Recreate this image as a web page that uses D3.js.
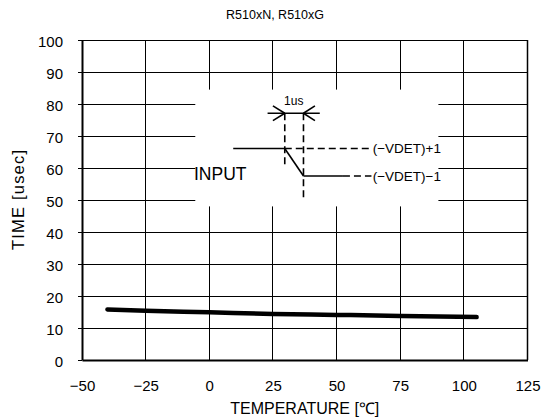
<!DOCTYPE html>
<html>
<head>
<meta charset="utf-8">
<script src="https://cdn.jsdelivr.net/npm/d3@7"></script>
<style>
  html, body { margin: 0; padding: 0; background: #fff; }
  svg { display: block; }
  text { font-family: "Liberation Sans", Arial, sans-serif; fill: #000; }
</style>
</head>
<body>
<svg id="chart" width="546" height="417"></svg>
<script>
// Detector output delay vs. ambient temperature
const temperature = [-40, -25, 0, 25, 50, 75, 105];
const delayTime = [15.8, 15.4, 14.9, 14.4, 14.1, 13.75, 13.4];

const xTicks = [-50, -25, 0, 25, 50, 75, 100, 125];
const yTicks = [0, 10, 20, 30, 40, 50, 60, 70, 80, 90, 100];

const titleText = "R510xN, R510xG";
const xTitle = "TEMPERATURE [\u2103]";
const yTitle = "TIME [usec]";

const svg = d3.select("#chart");
const margin = { left: 82, right: 18.5, top: 40, bottom: 57 };
const W = 546, H = 417;

const x = d3.scaleLinear().domain([-50, 125]).range([margin.left, W - margin.right]);
const y = d3.scaleLinear().domain([0, 100]).range([H - margin.bottom, margin.top]);

// grid
const grid = svg.append("g").attr("stroke", "#000").attr("stroke-width", 1).attr("shape-rendering", "crispEdges");
grid.selectAll("line.v").data(xTicks.slice(1, -1)).join("line")
  .attr("x1", d => x(d)).attr("x2", d => x(d))
  .attr("y1", y(100)).attr("y2", y(0));
grid.selectAll("line.h").data(yTicks.slice(1, -1)).join("line")
  .attr("x1", x(-50)).attr("x2", x(125))
  .attr("y1", d => y(d)).attr("y2", d => y(d));

// frame
svg.append("line").attr("x1", x(-50)).attr("x2", x(125)).attr("y1", y(100)).attr("y2", y(100))
  .attr("stroke", "#000").attr("stroke-width", 1).attr("shape-rendering", "crispEdges");
svg.append("line").attr("x1", x(125)).attr("x2", x(125)).attr("y1", y(100)).attr("y2", y(0))
  .attr("stroke", "#000").attr("stroke-width", 1.5);

// axes
const yAxis = svg.append("g").attr("transform", `translate(${x(-50)},0)`)
  .call(d3.axisLeft(y).tickValues(yTicks).tickSizeInner(4).tickSizeOuter(0).tickPadding(15));
const xAxis = svg.append("g").attr("transform", `translate(0,${y(0)})`)
  .call(d3.axisBottom(x).tickValues(xTicks).tickSizeInner(0).tickSizeOuter(0).tickPadding(20)
    .tickFormat(d => d < 0 ? "\u2212" + Math.abs(d) : d));
[yAxis, xAxis].forEach(g => {
  g.select(".domain").attr("stroke", "#000").attr("stroke-width", 2);
  g.selectAll(".tick line").attr("stroke", "#000");
  g.selectAll(".tick text").attr("font-size", 15).attr("font-family", "\"Liberation Sans\", Arial, sans-serif").attr("fill", "#000");
});
yAxis.selectAll(".tick text").attr("dy", "0.42em");

// inset timing diagram (white panel over the grid)
const ann = svg.append("g");
ann.append("rect")
  .attr("x", x(-5.5)).attr("y", y(84.5))
  .attr("width", x(90) - x(-5.5)).attr("height", y(48) - y(84.5))
  .attr("fill", "#fff");

const hiV = 66.1, loV = 57.5, arrowV = 77.1;
const t0 = 29.65, t1 = 37;
const dash = "7,4";
const seg = (a, b, dashed) => ann.append("line")
  .attr("x1", x(a[0])).attr("y1", y(a[1])).attr("x2", x(b[0])).attr("y2", y(b[1]))
  .attr("stroke", "#000").attr("stroke-width", 1.6)
  .attr("stroke-dasharray", dashed ? dash : null);

// input waveform
seg([9.4, hiV], [t0, hiV], false);
seg([t0, hiV], [t1, loV], false);
seg([t1, loV], [52.5, loV], false);
seg([t0, hiV], [63.7, hiV], true);
seg([52.5, loV], [63.7, loV], true);
// timing markers
seg([t0, arrowV], [t0, 60], true);
seg([t1, arrowV], [t1, 50], true);
// dimension line with arrowheads
seg([22.9, arrowV], [43.4, arrowV], false);
seg([25.0, 79.4], [t0, arrowV], false);
seg([25.0, 74.8], [t0, arrowV], false);
seg([41.5, 79.4], [t1, arrowV], false);
seg([41.5, 74.8], [t1, arrowV], false);

ann.append("text").attr("x", x(33.2)).attr("y", y(79.6))
  .attr("text-anchor", "middle").attr("font-size", 12).text("1us");
ann.append("text").attr("x", x(-6)).attr("y", y(56.3))
  .attr("font-size", 17.5).text("INPUT");
ann.append("text").attr("x", x(64.2)).attr("y", y(64.6))
  .attr("font-size", 13.5).text("(\u2212VDET)+1");
ann.append("text").attr("x", x(64.2)).attr("y", y(56.0))
  .attr("font-size", 13.5).text("(\u2212VDET)\u22121");

// data curve
const line = d3.line().x((d, i) => x(temperature[i])).y(d => y(d)).curve(d3.curveMonotoneX);
svg.append("path").datum(delayTime).attr("d", line)
  .attr("fill", "none").attr("stroke", "#000").attr("stroke-width", 4.5)
  .attr("stroke-linecap", "round").attr("stroke-linejoin", "round");

// titles
svg.append("text").attr("x", 275).attr("y", 19).attr("text-anchor", "middle")
  .attr("font-size", 12.5).text(titleText);
svg.append("text").attr("x", (x(-50) + x(125)) / 2).attr("y", 414).attr("text-anchor", "middle")
  .attr("font-size", 16).text(xTitle);
svg.append("text").attr("transform", `translate(24,${(y(0) + y(100)) / 2}) rotate(-90)`)
  .attr("text-anchor", "middle").attr("font-size", 16.5)
  .attr("textLength", 100).attr("lengthAdjust", "spacing").text(yTitle);
</script>
</body>
</html>
